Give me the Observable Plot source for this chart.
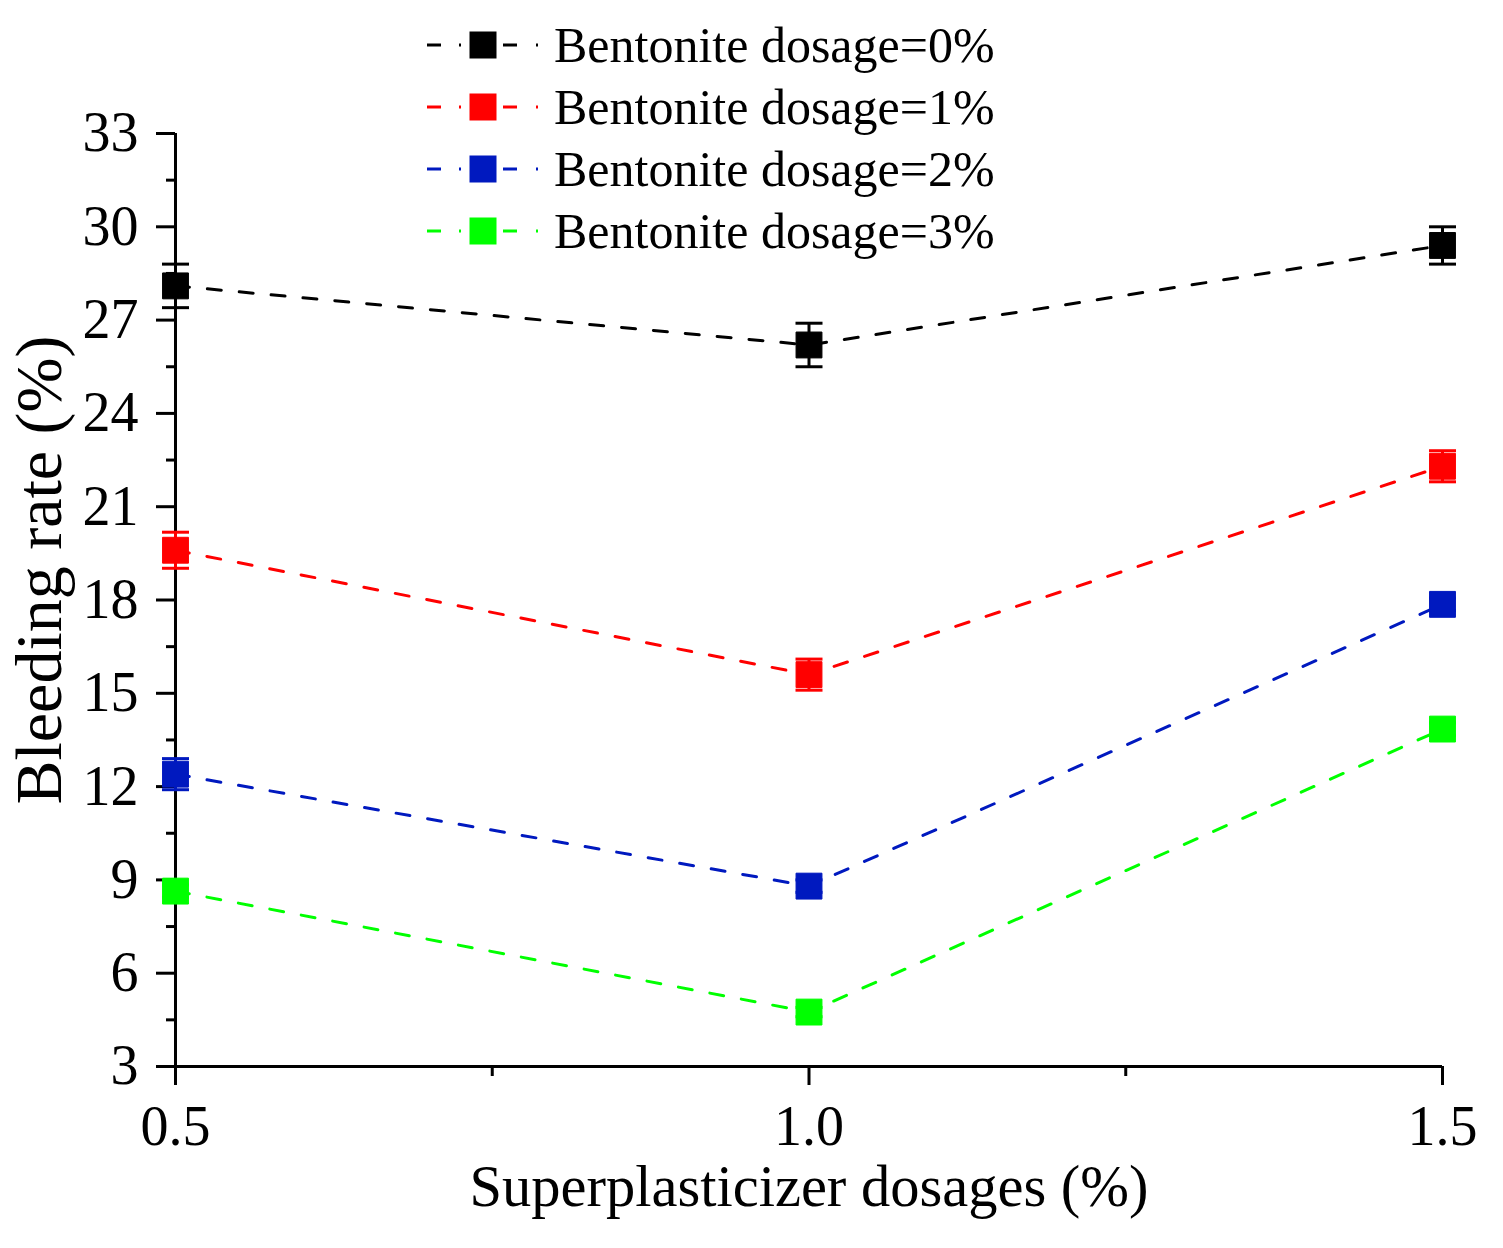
<!DOCTYPE html>
<html>
<head>
<meta charset="utf-8">
<script src="https://cdn.jsdelivr.net/npm/d3@7"></script>
<script src="https://cdn.jsdelivr.net/npm/@observablehq/plot@0.6"></script>
<style>
  body { margin: 0; background: #fff; }
  #wrap { position: relative; width: 1503px; height: 1248px; }
  #legend { position: absolute; left: 420px; top: 14px; font-family: "Liberation Serif", "Times New Roman", serif; font-size: 50px; color: #000; }
  .row { display: flex; align-items: center; height: 62px; }
  .row span { margin-left: 12px; line-height: 1; }
</style>
</head>
<body>
<div id="wrap">
  <div id="chart"></div>
  <div id="legend"></div>
</div>
<script>
const dosages = [0.5, 1.0, 1.5];
const seriesNames = ["Bentonite dosage=0%", "Bentonite dosage=1%", "Bentonite dosage=2%", "Bentonite dosage=3%"];
const colors = ["#000000", "#ff0000", "#0019bf", "#00ff00"];
const rate0 = [28.1, 26.2, 29.4];
const rate1 = [19.6, 15.6, 22.3];
const rate2 = [12.4, 8.8, 17.86];
const rate3 = [8.64, 4.75, 13.85];
const err0 = [0.7, 0.7, 0.6];
const err1 = [0.58, 0.5, 0.5];
const err2 = [0.5, 0.2, 0.2];
const err3 = [0.2, 0.15, 0.2];
const yMajorTicks = [3, 6, 9, 12, 15, 18, 21, 24, 27, 30, 33];
const yMinorTicks = [4.5, 7.5, 10.5, 13.5, 16.5, 19.5, 22.5, 25.5, 28.5, 31.5];
const xMajorTicks = [0.5, 1.0, 1.5];
const xMinorTicks = [0.75, 1.25];

const rates = [rate0, rate1, rate2, rate3];
const errs = [err0, err1, err2, err3];
const data = [];
seriesNames.forEach((s, i) => {
  dosages.forEach((d, j) => {
    data.push({series: s, x: d, y: rates[i][j], e: errs[i][j], color: colors[i]});
  });
});

const capSymbol = {
  draw(ctx, size) { ctx.moveTo(-13.5, 0); ctx.lineTo(13.5, 0); }
};

const font = '"Liberation Serif", "Times New Roman", serif';

const chart = Plot.plot({
  width: 1503,
  height: 1248,
  marginLeft: 175,
  marginRight: 61,
  marginTop: 133,
  marginBottom: 182,
  style: {fontFamily: font, background: "#fff", color: "#000"},
  x: {domain: [0.5, 1.5]},
  y: {domain: [3, 33]},
  color: {domain: seriesNames, range: colors},
  marks: [
    Plot.axisY({ticks: yMinorTicks, tickSize: 9, tickFormat: () => "", strokeWidth: 3, label: null}),
    Plot.axisY({ticks: yMajorTicks, tickSize: 19, tickPadding: 18, strokeWidth: 3, fontSize: 56, label: null, tickFormat: d3.format("d")}),
    Plot.axisX({ticks: xMinorTicks, tickSize: 10, tickFormat: () => "", strokeWidth: 3, label: null}),
    Plot.axisX({ticks: xMajorTicks, tickSize: 19, tickPadding: 20, strokeWidth: 3, fontSize: 56, label: null, tickFormat: d3.format(".1f")}),
    Plot.ruleX([0.5], {strokeWidth: 3}),
    Plot.ruleY([3], {strokeWidth: 3}),
    Plot.text(["Superplasticizer dosages (%)"], {frameAnchor: "bottom", dy: 98, fontSize: 58.5, lineAnchor: "top"}),
    Plot.text(["Bleeding rate (%)"], {frameAnchor: "left", textAnchor: "middle", dx: -136, dy: -30, rotate: -90, fontSize: 66}),
    Plot.line(data, {x: "x", y: "y", z: "series", stroke: "series", strokeWidth: 3, strokeDasharray: "14,18"}),
    Plot.ruleX(data, {x: "x", y1: d => d.y - d.e, y2: d => d.y + d.e, stroke: "series", strokeWidth: 3}),
    Plot.dot(data, {x: "x", y: d => d.y + d.e, symbol: capSymbol, stroke: "series", strokeWidth: 3, r: 10}),
    Plot.dot(data, {x: "x", y: d => d.y - d.e, symbol: capSymbol, stroke: "series", strokeWidth: 3, r: 10}),
    Plot.dot(data, {x: "x", y: "y", symbol: "square", fill: "series", stroke: "series", strokeWidth: 1, r: 14.6})
  ]
});
document.getElementById("chart").appendChild(chart);

const legend = document.getElementById("legend");
seriesNames.forEach((s, i) => {
  const row = document.createElement("div");
  row.className = "row";
  const c = colors[i];
  row.innerHTML = `<svg width="122" height="40" viewBox="0 0 122 40">
    <line x1="7" x2="21" y1="20" y2="20" stroke="${c}" stroke-width="3"/>
    <line x1="39" x2="41" y1="20" y2="20" stroke="${c}" stroke-width="3"/>
    <rect x="49.5" y="6.5" width="27" height="27" fill="${c}"/>
    <line x1="83" x2="97" y1="20" y2="20" stroke="${c}" stroke-width="3"/>
    <line x1="116" x2="118" y1="20" y2="20" stroke="${c}" stroke-width="3"/>
  </svg><span>${s}</span>`;
  legend.appendChild(row);
});
</script>
</body>
</html>
